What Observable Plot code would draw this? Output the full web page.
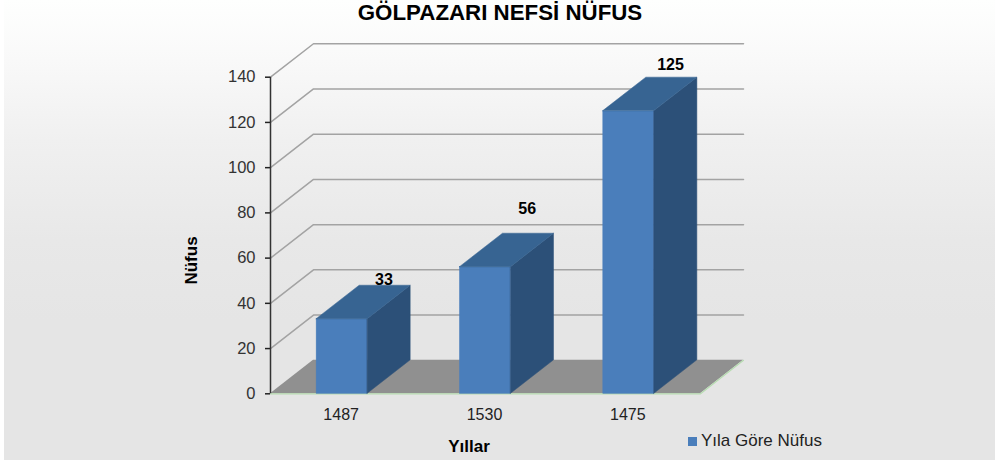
<!DOCTYPE html>
<html><head><meta charset="utf-8">
<script src="https://cdn.jsdelivr.net/npm/d3@7"></script>
<script src="https://cdn.jsdelivr.net/npm/@observablehq/plot@0.6"></script>
<style>
html,body{margin:0;padding:0;background:#fff;overflow:hidden}
#wrap{position:relative;width:995px;height:464px;font-family:"Liberation Sans",Arial,sans-serif}
#bg{position:absolute;left:4px;top:0;width:991px;height:460px;background:linear-gradient(#fefffe 0,#f9f9f9 60px,#f0f0f0 140px,#e8e8e8 240px,#e5e5e5 320px,#e5e5e5 100%)}
#chart{position:absolute;left:0;top:0}
#chart svg{background:transparent;display:block}
#title{position:absolute;left:0;width:1000px;top:1px;text-align:center;font-weight:bold;font-size:22.3px;line-height:24px;color:#000}
#legend{position:absolute;left:688px;top:431px;font-size:17px;line-height:20px;color:#222;display:flex;align-items:center;gap:4px}
#legend i{display:block;width:9px;height:9px;background:#4a7ebb}
</style></head>
<body><div id="wrap"><div id="bg"></div><div id="chart"></div>
<div id="title">GÖLPAZARI NEFSİ NÜFUS</div>
<div id="legend"><i></i><span>Yıla Göre Nüfus</span></div></div>
<script>
const years = ["1487", "1530", "1475"];
const population = [33, 56, 125];
const gridValues = [0, 20, 40, 60, 80, 100, 120, 140];

// 3-D projection expressed in scale units
const depthX = 0.3, depthY = 14.8, barWidth = 0.356;
const labelLift = [2.4, 11, 5.6];
const slots = years.length;

const bars = years.map((year, i) => ({year, value: population[i], left: i + 0.5 - barWidth / 2, right: i + 0.5 + barWidth / 2, i}));
const sidePts = bars.flatMap(b => [
  {id: b.year, x: b.right, y1: 0, y2: b.value},
  {id: b.year, x: b.right + depthX, y1: depthY, y2: b.value + depthY}
]);
const topPts = bars.flatMap(b => [
  {id: b.year, y: b.value, x1: b.left, x2: b.right},
  {id: b.year, y: b.value + depthY, x1: b.left + depthX, x2: b.right + depthX}
]);
const floorPts = [
  {y: 0, x1: 0, x2: slots},
  {y: depthY, x1: depthX, x2: slots + depthX}
];
const floorEdge = [
  {x: slots + depthX, y: depthY},
  {x: slots, y: 0},
  {x: 0, y: 0}
];
const gridPts = gridValues.flatMap(v => [
  {v, x: 0, y: v},
  {v, x: depthX, y: v + depthY},
  {v, x: slots + depthX, y: v + depthY}
]);

const plot = Plot.plot({
  width: 995, height: 464,
  marginLeft: 270, marginRight: 295, marginTop: 76.7, marginBottom: 70.7,
  style: {fontFamily: '"Liberation Sans", Arial, sans-serif', background: "transparent", overflow: "visible"},
  x: {domain: [0, slots]},
  y: {domain: [0, 140]},
  marks: [
    Plot.line(gridPts.filter(d => d.v > 0), {x: "x", y: "y", z: "v", stroke: "#a3a3a3", strokeWidth: 1.5}),
    Plot.areaX(floorPts, {y: "y", x1: "x1", x2: "x2", fill: "#909090", curve: "linear"}),
    Plot.line(floorEdge, {x: "x", y: "y", stroke: "#b6dcb0", strokeWidth: 1.2}),
    Plot.rect(bars, {x1: "left", x2: "right", y1: 0, y2: "value", fill: "#4a7ebb", stroke: "#4a7ebb", strokeWidth: 0.5}),
    Plot.areaY(sidePts, {x: "x", y1: "y1", y2: "y2", z: "id", fill: "#2c5078", stroke: "#2c5078", strokeWidth: 0.5, curve: "linear"}),
    Plot.areaX(topPts, {y: "y", x1: "x1", x2: "x2", z: "id", fill: "#376492", stroke: "#376492", strokeWidth: 0.5, curve: "linear"}),
    Plot.axisY({ticks: gridValues, tickSize: 5, tickPadding: 10, label: null, fontSize: 16.5, stroke: "#222", strokeWidth: 1.5, color: "#333", anchor: "left"}),
    Plot.ruleX([0], {y1: 0, y2: 140, stroke: "#333", strokeWidth: 1.5}),
    Plot.axisX({ticks: years.map((_, i) => i + 0.5), tickFormat: (_, i) => years[i], tickSize: 0, tickPadding: 15, label: null, fontSize: 16, color: "#222", anchor: "bottom", dx: -1}),
    Plot.text(bars, {x: d => (d.left + d.right) / 2 + depthX * 0.97, y: d => d.value + depthY + labelLift[d.i], text: d => String(d.value), fontWeight: "bold", fontSize: 16, fill: "#000"}),
    Plot.text(["Nüfus"], {frameAnchor: "left", textAnchor: "middle", dx: -79, dy: 25, rotate: -90, fontWeight: "bold", fontSize: 17, fill: "#000"}),
    Plot.text(["Yıllar"], {frameAnchor: "bottom", dx: -16.5, dy: 58, fontWeight: "bold", fontSize: 17, fill: "#000"})
  ]
});
document.getElementById("chart").appendChild(plot);
</script></body></html>
